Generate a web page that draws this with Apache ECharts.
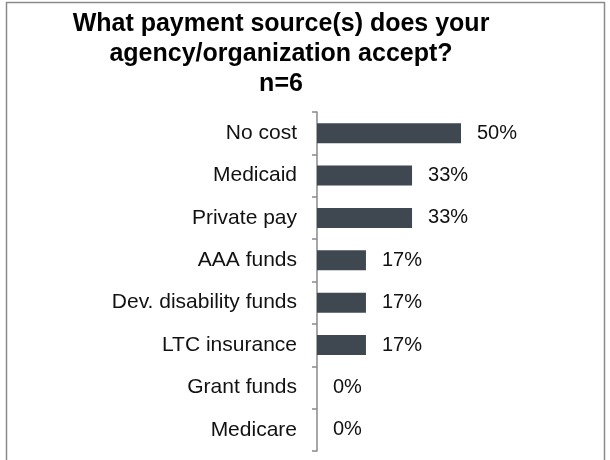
<!DOCTYPE html>
<html>
<head>
<meta charset="utf-8">
<script src="https://cdn.jsdelivr.net/npm/echarts@6/dist/echarts.min.js"></script>
<style>html,body{margin:0;padding:0;background:#fff}#c{width:610px;height:460px}</style>
</head>
<body>
<div id="c"></div>
<script>
const categories = ['No cost', 'Medicaid', 'Private pay', 'AAA funds', 'Dev. disability funds', 'LTC insurance', 'Grant funds', 'Medicare'];
const percentValues = [50, 33, 33, 17, 17, 17, 0, 0];
const titleText = 'What payment source(s) does your\nagency/organization accept?\nn=6';

const chart = echarts.init(document.getElementById('c'), null, {renderer: 'canvas'});
chart.setOption({
  animation: false,
  backgroundColor: '#fff',
  graphic: [{
    type: 'rect', silent: true,
    shape: {x: 6.5, y: 2.5, width: 598, height: 480},
    style: {fill: 'none', stroke: '#8a8a8a', lineWidth: 1.5}
  }],
  title: {
    text: titleText,
    left: 276, top: 4, textAlign: 'center',
    textStyle: {fontFamily: 'Liberation Sans', fontSize: 25, fontWeight: 'bold', color: '#000', lineHeight: 30}
  },
  grid: {left: 317, top: 112, width: 288, bottom: 9, containLabel: false},
  xAxis: {
    type: 'value', min: 0, max: 100, show: false
  },
  yAxis: {
    type: 'category', data: categories, inverse: true,
    axisLine: {show: true, lineStyle: {color: '#8a8a8a', width: 1.5}},
    axisTick: {show: true, length: 5, lineStyle: {color: '#8a8a8a', width: 1.5}},
    axisLabel: {margin: 20, fontFamily: 'Liberation Sans', fontSize: 21, color: '#111'},
    splitLine: {show: false}
  },
  series: [{
    type: 'bar', data: percentValues, barWidth: 20,
    itemStyle: {color: '#3f4750'},
    label: {show: true, position: 'right', distance: 16, fontFamily: 'Liberation Sans', fontSize: 20, color: '#111',
      formatter: p => p.value + '%'}
  }]
});
</script>
</body>
</html>
